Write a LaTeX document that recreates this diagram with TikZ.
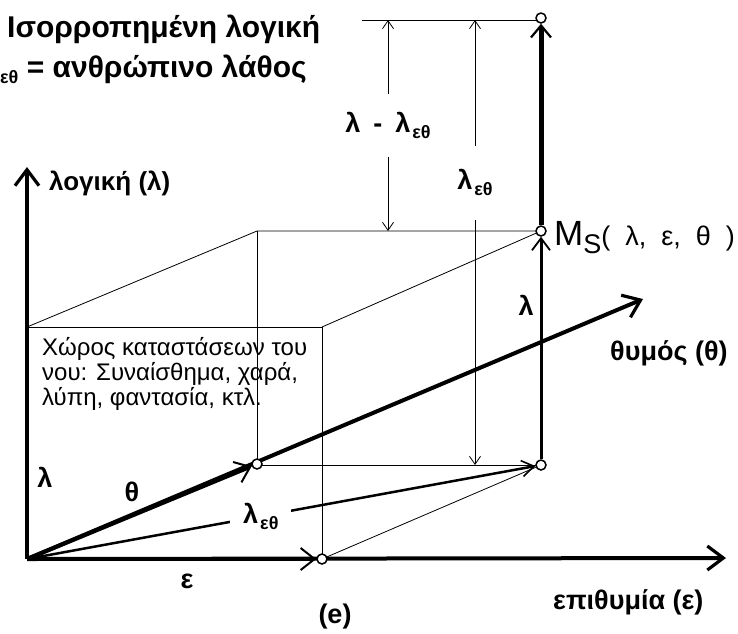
\documentclass[tikz,border=0pt]{standalone}
\usepackage{fontspec}
\setmainfont{Liberation Sans}
\usetikzlibrary{arrows.meta}

% lambda with the subscript epsilon-theta
\newcommand{\lamet}{λ\kern2pt\raisebox{-6pt}{\fontsize{18}{18}\selectfont\bfseries εθ}}

\begin{document}
\begin{tikzpicture}[x=1pt,y=-1pt,
    axisline/.style={line width=4pt,-{Straight Barb[length=16pt,width=24pt,line width=3.2pt]}},
    vecline/.style={line width=4pt,-{Straight Barb[length=14pt,width=22pt,line width=2pt]}},
    edge/.style={line width=0.8pt},
    dimline/.style={line width=0.8pt,{Straight Barb[length=8pt,width=11pt,line width=0.8pt]}-{Straight Barb[length=8pt,width=11pt,line width=0.8pt]}},
    pnt/.style={circle,draw,fill=white,line width=1.5pt,inner sep=0pt,minimum size=10pt},
    lbl/.style={font=\fontsize{27}{29}\selectfont\bfseries,inner sep=1pt},
    boxtext/.style={font=\fontsize{24}{25}\selectfont,align=left,anchor=north west,inner sep=0pt}]
  \useasboundingbox (0,0) rectangle (738,633);

  % axes and corners
  \coordinate (O) at (27,559);
  \coordinate (Ltip) at (27,167);
  \coordinate (Etip) at (726,558);
  \coordinate (Ttip) at (643,299);
  \coordinate (A) at (27,327);
  \coordinate (B) at (322,327);
  \coordinate (C) at (257,231);
  \coordinate (Zl) at (362,20);

  % box edges (thin)
  \draw[edge] (A) -- (B);
  \draw[edge] (A) -- (C) -- (541,231);
  \draw[edge] (B) -- (541,231);
  \draw[edge] (C) -- (257,464);
  \draw[edge] (B) -- (322,559);
  \draw[edge] (257,465) -- (541,465);
  \draw[edge] (322,559) -- (541,465);
  \draw[edge] (Zl) -- (541,20);

  % main axes
  \draw[axisline] (O) -- (Ltip);
  \draw[axisline] (O) -- (Etip);
  \draw[axisline] (O) -- (Ttip);

  % points
  \node[pnt] (T) at (257,464) {};
  \node[pnt] (E) at (322,559) {};
  \node[pnt] (P) at (541,465) {};
  \node[pnt] (M) at (541,231) {};
  \node[pnt] (Z) at (541,18) {};

  % vectors
  \draw[vecline] (O) -- (T);
  \draw[vecline] (O) -- (E);
  \draw[line width=2.5pt,-{Straight Barb[length=12pt,width=16pt,line width=1.6pt]}]
    (O) -- node[pos=0.46,fill=white,lbl,inner xsep=13pt,inner ysep=0pt] (Llet) {\lamet} (P);
  \draw[line width=3pt,-{Straight Barb[length=12pt,width=18pt,line width=1.8pt]}] (P) -- (M);
  \draw[line width=5pt,-{Straight Barb[length=12pt,width=20pt,line width=2.2pt]}] (M) -- (Z);

  % dimension lines
  \coordinate (D1a) at (388,20);
  \coordinate (D1b) at (388,231);
  \coordinate (D2a) at (475,20);
  \coordinate (D2b) at (475,465);
  \draw[dimline] (D1a) -- node[pos=0.5,fill=white,lbl,inner ysep=18pt] (Ldiff)
    {λ\hspace{13pt}-\hspace{13pt}\lamet} (D1b);
  \draw[dimline] (D2a) -- node[pos=0.366,fill=white,lbl,inner ysep=24pt] (Ldim) {\lamet} (D2b);

  % labels
  \node[lbl,anchor=west,font=\fontsize{30}{32}\selectfont\bfseries] (title) at (6,29) {Ισορροπημένη λογική};
  \node[lbl,anchor=west,font=\fontsize{30}{32}\selectfont\bfseries] (legend) at (-1,69)
    {\raisebox{-6pt}{\fontsize{18}{18}\selectfont\bfseries εθ} = ανθρώπινο λάθος};
  \node[lbl,anchor=west,font=\fontsize{26}{28}\selectfont\bfseries] (Lname) at (48,183) {λογική (λ)};
  \node[lbl,anchor=west] (Ename) at (552,602) {επιθυμία (ε)};
  \node[lbl,anchor=west] (Tname) at (609,353) {θυμός (θ)};
  \node[anchor=west,inner sep=0pt] (Mlab) at (554,238)
    {\fontsize{35}{37}\selectfont M\raisebox{-8pt}{\fontsize{27}{27}\selectfont S}%
     \fontsize{27}{29}\selectfont(\hspace{15pt}λ,\hspace{15pt}ε,\hspace{15pt}θ\hspace{15pt})};
  \node[lbl] (Lv) at (526,305) {λ};
  \node[lbl] (La) at (45,477) {λ};
  \node[lbl] (Ta) at (132,492) {θ};
  \node[lbl] (Ea) at (187,581) {ε};
  \node[lbl] (cap) at (335,617) {(e)};
  \node[boxtext] (space) at (42,337)
    {Χώρος καταστάσεων του\\νου: Συναίσθημα, χαρά,\\λύπη, φαντασία, κτλ.};
\end{tikzpicture}
\end{document}
